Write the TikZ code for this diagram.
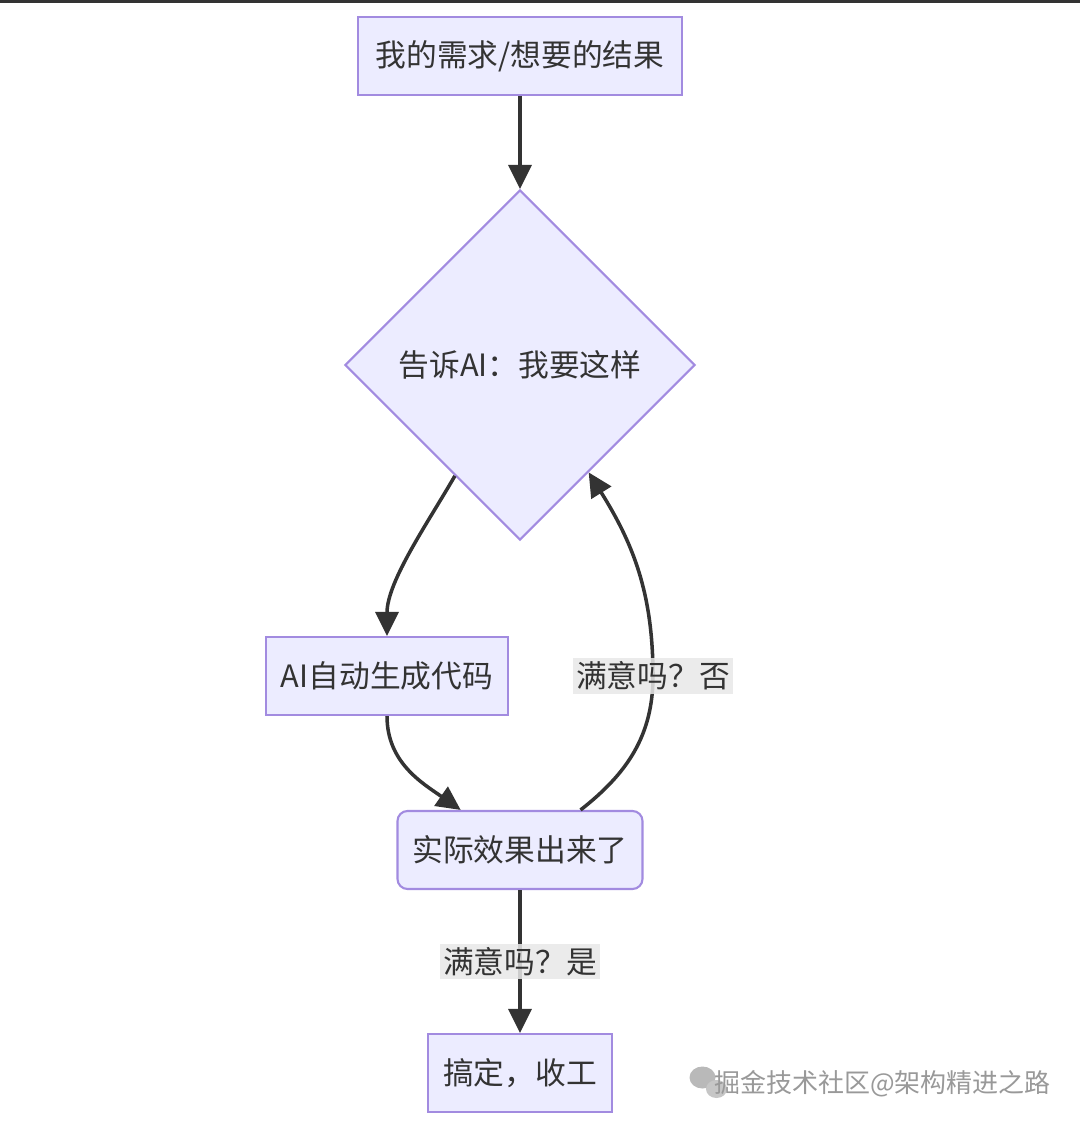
\documentclass[tikz,border=0pt]{standalone}
\usepackage{fontspec}
\setmainfont{Noto Sans CJK SC}
\usepackage{xcolor}
\usetikzlibrary{shapes.geometric, arrows.meta, positioning, calc}
\definecolor{nodefill}{HTML}{ECECFF}
\definecolor{nodeline}{HTML}{A28BE0}
\definecolor{inkgray}{HTML}{333333}
\definecolor{lblgray}{HTML}{E8E8E8}

\begin{document}
\begin{tikzpicture}[
  box/.style={rectangle, draw=nodeline, fill=nodefill, line width=1.2pt, minimum height=1.56cm, inner sep=0pt, text=inkgray, font=\fontsize{17.5}{20}\selectfont},
  choice/.style={diamond, draw=nodeline, fill=nodefill, line width=1.2pt, minimum width=7cm, minimum height=7cm, inner sep=0pt, text=inkgray, font=\fontsize{17.5}{20}\selectfont},
  lbl/.style={fill=lblgray, fill opacity=0.85, text opacity=1, text=inkgray, inner sep=2pt, font=\fontsize{17.5}{20}\selectfont},
  arr/.style={draw=inkgray, line width=2pt, -{Triangle[length=0.48cm, width=0.46cm]}}]
\useasboundingbox[fill=white] (0,0) rectangle (21.6,-22.6);
\draw[inkgray, line width=0.06cm] (0,-0.03) -- (21.6,-0.03);

\node[box, minimum width=6.48cm] (want) at (10.4,-1.12) {我的需求/想要的结果};
\node[choice] (tell) at (10.4,-7.3) {告诉AI：我要这样};
\node[box, minimum width=4.84cm] (gen) at (7.74,-13.52) {AI自动生成代码};
\node[box, minimum width=4.9cm, rounded corners=0.2cm] (result) at (10.4,-17.0) {实际效果出来了};
\node[box, minimum width=3.68cm] (done) at (10.4,-21.46) {搞定，收工};

\coordinate (tellout) at ($(tell.west)!0.63!(tell.south)$);
\coordinate (tellin) at ($(tell.south)!0.39!(tell.east)$);
\coordinate (resin) at ($(result.north west)!0.26!(result.north east)$);
\coordinate (resout) at ($(result.north west)!0.745!(result.north east)$);
\coordinate (nomid) at (13.06,-13.52);

\draw[arr] (want) -- (tell);
\draw[arr] (tellout) to[out=-120, in=90, looseness=0.8] (gen.north);
\draw[arr] (gen.south) to[out=-90, in=145] (resin);
\draw[arr] (resout) to[out=38, in=-90] (nomid) to[out=90, in=-58] (tellin);
\draw[arr] (result) -- node[lbl] (yes) {满意吗？是} (done);
\node[lbl] (no) at (nomid) {满意吗？否};

% watermark
\fill[gray!55] (14.05,-21.55) ellipse (0.26 and 0.22);
\fill[gray!45] (14.33,-21.78) ellipse (0.21 and 0.18);
\node[text=gray!80, font=\fontsize{14.8}{17}\selectfont] (mark) at (17.65,-21.68) {掘金技术社区@架构精进之路};
\end{tikzpicture}
\end{document}
